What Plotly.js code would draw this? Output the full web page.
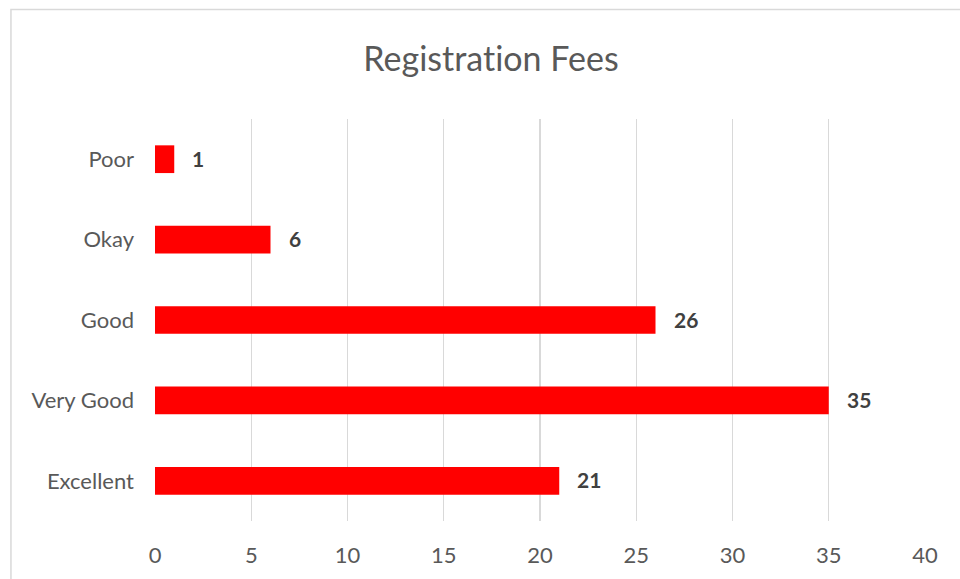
<!DOCTYPE html>
<html>
<head>
<meta charset="utf-8">
<script src="https://cdn.plot.ly/plotly-3.0.1.min.js"></script>
<style>
html,body{margin:0;padding:0;background:#fff;}
#chart{width:960px;height:579px;}
#chart text{font-variant-ligatures:none;font-feature-settings:"liga" 0;}
</style>
</head>
<body>
<div id="chart"></div>
<script>
const categories = ["Poor", "Okay", "Good", "Very Good", "Excellent"];
const values = [1, 6, 26, 35, 21];
const xTicks = [0, 5, 10, 15, 20, 25, 30, 35, 40];
const chartTitle = "Registration Fees";

const FONT = "Lato, 'Open Sans', sans-serif";

const trace = {
  type: "bar",
  orientation: "h",
  x: values,
  y: categories,
  marker: {color: "#FF0000"},
  hoverinfo: "x+y"
};

const annotations = values.map((v, i) => ({
  x: v, y: categories[i], xref: "x", yref: "y",
  text: "<b>" + v + "</b>", showarrow: false,
  xanchor: "left", yanchor: "middle", xshift: 16, yshift: 1,
  font: {family: FONT, size: 21, color: "#404040"}
}));

const layout = {
  width: 960, height: 579,
  margin: {l: 155, r: 35.3, t: 119, b: 58},
  paper_bgcolor: "#ffffff", plot_bgcolor: "#ffffff",
  showlegend: false,
  bargap: 0.655,
  title: {
    text: chartTitle,
    x: 491/960, xref: "container", xanchor: "center",
    y: 1 - 59.5/579, yref: "container", yanchor: "middle",
    font: {family: FONT, size: 34, color: "#595959"}
  },
  xaxis: {
    range: [0, 40],
    tickvals: xTicks,
    ticktext: xTicks.map(String),
    showgrid: true, gridcolor: "#d9d9d9", gridwidth: 1.3,
    zeroline: false, showline: false, ticks: "",
    ticklabelstandoff: 19,
    tickfont: {family: FONT, size: 22, color: "#595959"},
    fixedrange: true
  },
  yaxis: {
    type: "category",
    categoryorder: "array", categoryarray: categories,
    range: [4.5, -0.5],
    showgrid: false, zeroline: false, showline: false, ticks: "",
    ticklabelstandoff: 20,
    tickfont: {family: FONT, size: 22, color: "#595959"},
    fixedrange: true
  },
  annotations: annotations,
  shapes: [{
    type: "rect", xref: "paper", yref: "paper",
    x0: (11 - 155) / 769.7, x1: 1.5,
    y0: -0.5, y1: (521 - 9.5) / 402,
    line: {color: "#d9d9d9", width: 1.5},
    fillcolor: "rgba(0,0,0,0)", layer: "below"
  }]
};

Plotly.newPlot("chart", [trace], layout, {displayModeBar: false, staticPlot: true});
</script>
</body>
</html>
